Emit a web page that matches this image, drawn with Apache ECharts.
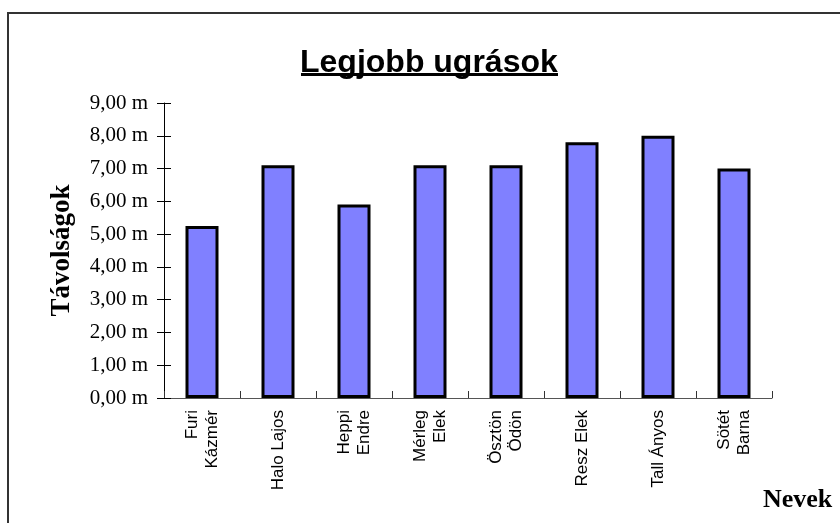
<!DOCTYPE html>
<html>
<head>
<meta charset="utf-8">
<script src="https://cdn.jsdelivr.net/npm/echarts@6/dist/echarts.min.js"></script>
<style>
    html, body { margin: 0; padding: 0; background: #fff; }
    #chart { width: 840px; height: 523px; }
</style>
</head>
<body>
<div id="chart"></div>
<script>
// nevek es tavolsagok
var categories = ['Furi\nKázmér', 'Halo Lajos', 'Heppi\nEndre', 'Mérleg\nElek', 'Ösztön\nÖdön', 'Resz Elek', 'Tall Ányos', 'Sötét\nBarna'];
var distances = [5.25, 7.1, 5.9, 7.1, 7.1, 7.8, 8.0, 7.0];
var yMin = 0, yMax = 9, yStep = 1;

var myChart = echarts.init(document.getElementById('chart'));

function fmtMeter(v) {
    return v.toFixed(2).replace('.', ',') + ' m';
}

var gridBox = { left: 164, right: 68, top: 103, bottom: 125 };

var option = {
    backgroundColor: '#fff',
    animation: false,
    title: [{
        text: 'Legjobb ugrások',
        left: 295,
        top: 42,
        textStyle: {
            fontFamily: 'Liberation Sans',
            fontWeight: 'bold',
            fontSize: 32,
            color: '#000'
        }
    }, {
        text: 'Nevek',
        left: 758,
        top: 482,
        textStyle: {
            fontFamily: 'Liberation Serif',
            fontWeight: 'bold',
            fontSize: 26,
            color: '#000'
        }
    }],
    graphic: [{
        type: 'rect',
        shape: { x: 8, y: 13, width: 900, height: 600 },
        style: { fill: 'none', stroke: '#333', lineWidth: 2 }
    }, {
        // cim alahuzasa
        type: 'rect',
        shape: { x: 301, y: 73, width: 257, height: 3 },
        style: { fill: '#000' }
    }],
    // a masodik grid csak a befele allo osztasokhoz kell
    grid: [gridBox, gridBox],
    xAxis: [{
        type: 'category',
        gridIndex: 0,
        data: categories,
        axisLine: { lineStyle: { color: '#555', width: 1 } },
        axisTick: { length: 7, lineStyle: { color: '#333' } },
        axisLabel: {
            rotate: 90,
            margin: 12,
            interval: 0,
            fontFamily: 'Liberation Sans',
            fontSize: 17,
            lineHeight: 20,
            color: '#000'
        }
    }, {
        type: 'category',
        gridIndex: 1,
        data: categories,
        axisLine: { show: true, lineStyle: { color: 'rgba(0,0,0,0)' } },
        axisTick: { show: true, inside: true, length: 7, lineStyle: { color: '#333' } },
        axisLabel: { show: false }
    }],
    yAxis: [{
        type: 'value',
        gridIndex: 0,
        min: yMin,
        max: yMax,
        interval: yStep,
        name: 'Távolságok',
        nameLocation: 'middle',
        nameGap: 88,
        nameTextStyle: {
            fontFamily: 'Liberation Serif',
            fontWeight: 'bold',
            fontSize: 27,
            color: '#000'
        },
        axisLine: { show: true, lineStyle: { color: '#000', width: 1 } },
        axisTick: { show: true, length: 7, lineStyle: { color: '#000' } },
        splitLine: { show: false },
        axisLabel: {
            margin: 16,
            fontFamily: 'Liberation Serif',
            fontSize: 21,
            color: '#000',
            formatter: fmtMeter
        }
    }, {
        type: 'value',
        gridIndex: 1,
        min: yMin,
        max: yMax,
        interval: yStep,
        axisLine: { show: true, lineStyle: { color: 'rgba(0,0,0,0)' } },
        axisTick: { show: true, inside: true, length: 7, lineStyle: { color: '#000' } },
        splitLine: { show: false },
        axisLabel: { show: false }
    }],
    series: [{
        type: 'bar',
        xAxisIndex: 0,
        yAxisIndex: 0,
        barWidth: 33,
        data: distances,
        itemStyle: {
            color: '#8080FF',
            borderColor: '#000',
            borderWidth: 3
        },
        z: 3
    }, {
        // lathatatlan, csak hogy a masodik grid tengelyei kirajzolodjanak
        type: 'bar',
        xAxisIndex: 1,
        yAxisIndex: 1,
        barWidth: 33,
        data: distances,
        silent: true,
        itemStyle: { color: 'transparent' },
        z: 1
    }]
};

myChart.setOption(option);
</script>
</body>
</html>
